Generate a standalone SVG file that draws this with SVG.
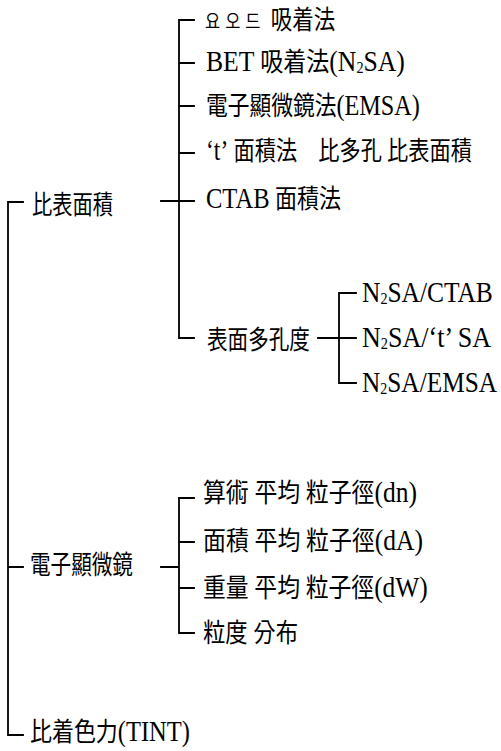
<svg xmlns="http://www.w3.org/2000/svg" width="501" height="751" viewBox="0 0 501 751">
<style>
.ln{stroke:#000;stroke-width:1.8;fill:none;stroke-linecap:square}
.t{font-family:"Liberation Serif","Noto Sans CJK KR",serif;font-size:26px;fill:#000}
.L{font-size:29px}
.s{font-size:16px}
.k{font-size:20px;letter-spacing:6px}
</style>
<rect width="501" height="751" fill="#fff"/>
<g id="connectors">
<path class="ln" d="M8,202 V735 M8,202 H23 M8,567 H23 M8,735 H23"/>
<path class="ln" d="M161,201 H194 M179,20 V338 M179,20 H194 M179,63 H194 M179,106 H194 M179,153 H194 M179,338 H194"/>
<path class="ln" d="M318,338 H356 M339,293 V383 M339,293 H356 M339,383 H356"/>
<path class="ln" d="M161,567 H179 M179,498 V633 M179,498 H194 M179,542 H194 M179,588 H194 M179,633 H194"/>
</g>
<g id="n-bipyo"><text class="t" transform="translate(32,214) scale(0.779,1)">比表面積</text></g>
<g id="n-iodine"><text class="t" transform="translate(205,29) scale(0.825,1)"><tspan class="k">요오드</tspan> 吸着法</text></g>
<g id="n-bet"><text class="t" transform="translate(206,71) scale(0.886,1)"><tspan class="L">BET</tspan> 吸着法<tspan class="L">(N</tspan><tspan class="s" dy="2">2</tspan><tspan class="L" dy="-2">SA)</tspan></text></g>
<g id="n-emsa"><text class="t" transform="translate(206,115) scale(0.836,1)">電子顯微鏡法<tspan class="L">(EMSA)</tspan></text></g>
<g id="n-t"><text class="t" transform="translate(206,160) scale(0.815,1)"><tspan class="L">‘t’</tspan> 面積法　比多孔 比表面積</text></g>
<g id="n-ctab"><text class="t" transform="translate(206,208) scale(0.847,1)"><tspan class="L">CTAB</tspan> 面積法</text></g>
<g id="n-porosity"><text class="t" transform="translate(207,349) scale(0.792,1)">表面多孔度</text></g>
<g id="n-r1"><text class="t L" transform="translate(362,302) scale(0.878,1)">N<tspan class="s" dy="2">2</tspan><tspan dy="-2">SA/CTAB</tspan></text></g>
<g id="n-r2"><text class="t L" transform="translate(362,347) scale(0.899,1)">N<tspan class="s" dy="2">2</tspan><tspan dy="-2">SA/‘t’ SA</tspan></text></g>
<g id="n-r3"><text class="t L" transform="translate(362,392) scale(0.873,1)">N<tspan class="s" dy="2">2</tspan><tspan dy="-2">SA/EMSA</tspan></text></g>
<g id="n-em"><text class="t" transform="translate(30,574) scale(0.792,1)">電子顯微鏡</text></g>
<g id="n-dn"><text class="t" transform="translate(203,502) scale(0.88,1)">算術 平均 粒子徑<tspan class="L">(dn)</tspan></text></g>
<g id="n-da"><text class="t" transform="translate(203,550) scale(0.881,1)">面積 平均 粒子徑<tspan class="L">(dA)</tspan></text></g>
<g id="n-dw"><text class="t" transform="translate(203,597) scale(0.878,1)">重量 平均 粒子徑<tspan class="L">(dW)</tspan></text></g>
<g id="n-dist"><text class="t" transform="translate(203,642) scale(0.86,1)">粒度 分布</text></g>
<g id="n-tint"><text class="t" transform="translate(30,741) scale(0.845,1)">比着色力<tspan class="L">(TINT)</tspan></text></g>
</svg>
